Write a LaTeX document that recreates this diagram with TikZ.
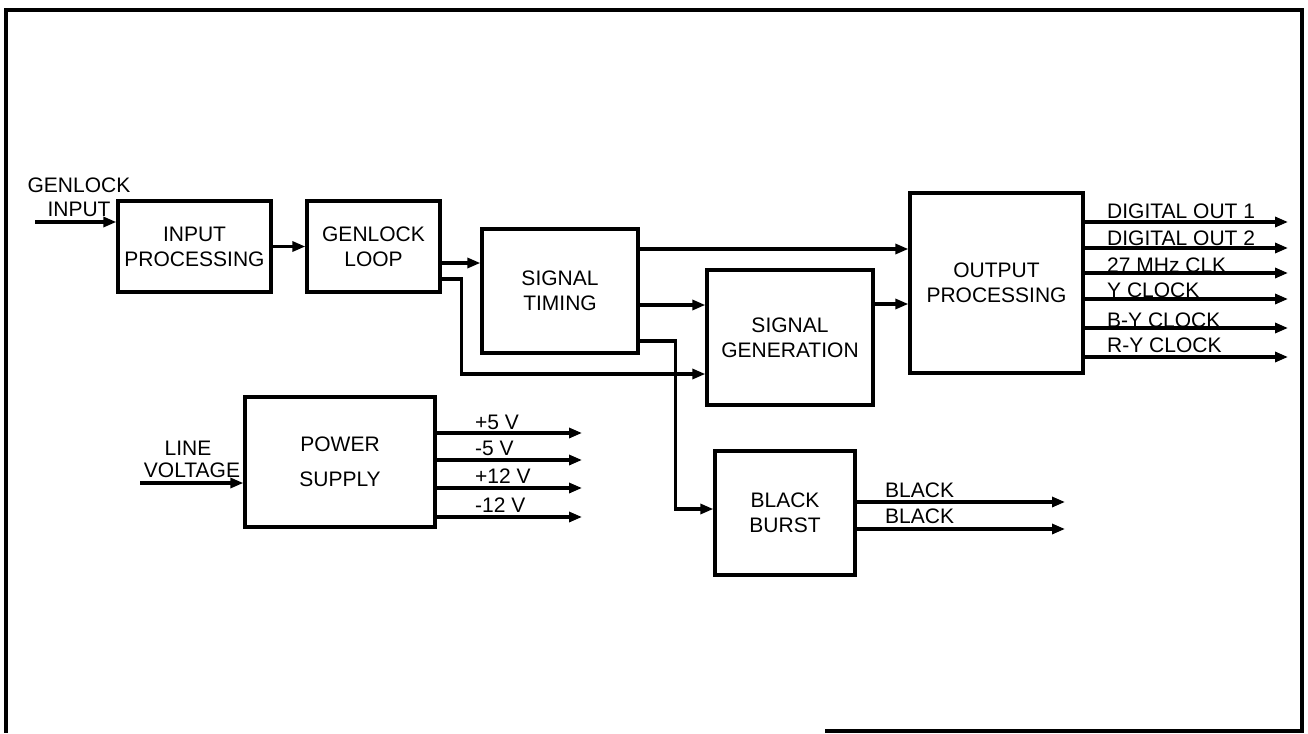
\documentclass[tikz,border=0pt]{standalone}
\usepackage{fontspec}
\setmainfont{Liberation Sans}
\usetikzlibrary{arrows.meta}
\newcommand\lblfont{\fontsize{21}{25}\selectfont}
\begin{document}
\begin{tikzpicture}[x=1pt,y=-1pt,
  box/.style={draw, line width=3.3pt, inner sep=0pt, align=center, font=\lblfont},
  arr/.style={line width=3.1pt, -{Triangle[length=13pt,width=10pt]}},
  lab/.style={font=\lblfont, inner sep=0pt, anchor=base west},
  clab/.style={font=\lblfont, inner sep=0pt, anchor=base},
  frame/.style={line width=4pt}]
\useasboundingbox (0,0) rectangle (1308,733);
% frame
\draw[frame] (825,731) -- (1302,731) -- (1302,10) -- (6,10) -- (6,733);

% blocks
\node[box, minimum width=153pt, minimum height=91pt] (ip) at (194.5,246.5) {INPUT\\PROCESSING};
\node[box, minimum width=133pt, minimum height=91pt] (gl) at (373.5,246.5) {GENLOCK\\LOOP};
\node[box, minimum width=156pt, minimum height=124pt] (st) at (560,291) {SIGNAL\\TIMING};
\node[box, minimum width=166pt, minimum height=135pt] (sg) at (790,337.5) {SIGNAL\\GENERATION};
\node[box, minimum width=173pt, minimum height=180pt] (op) at (996.5,283) {OUTPUT\\PROCESSING};
\node[box, minimum width=190pt, minimum height=130pt] (ps) at (340,462) {POWER\\[10pt]SUPPLY};
\node[box, minimum width=140pt, minimum height=124pt] (bb) at (785,513) {BLACK\\BURST};

% genlock input
\node[clab] (gin1) at (79,192) {GENLOCK};
\node[clab] (gin2) at (79,216) {INPUT};
\coordinate (gin) at (35,222);
\draw[arr] (gin) -- (ip.west |- gin);
\draw[arr] (ip.east) -- (gl.west);
\draw[arr] (gl.east |- 0,263) -- (st.west |- 0,263);
\draw[arr] (gl.east |- 0,279) -- ++(20,0) |- (sg.west |- 0,374);
\draw[arr] (st.east |- 0,249) -- (op.west |- 0,249);
\draw[arr] (st.east |- 0,305) -- (sg.west |- 0,305);
\draw[arr] (st.east |- 0,341) -- ++(36,0) |- (bb.west |- 0,509);
\draw[arr] (sg.east |- 0,304) -- (op.west |- 0,304);

% output processing outputs
\foreach \n/\y/\b/\t in {1/222/218/DIGITAL OUT 1, 2/248/245/DIGITAL OUT 2, 3/273/272/27 MHz CLK, 4/299/297/Y CLOCK, 5/328/327/B-Y CLOCK, 6/357/352/R-Y CLOCK}{
  \coordinate (oo\n) at (1288,\y);
  \draw[arr] (op.east |- oo\n) -- (oo\n);
  \node[lab] (ol\n) at (1107,\b) {\t};
}

% power supply
\node[clab] (lv1) at (188,455) {LINE};
\node[clab] (lv2) at (192,477) {VOLTAGE};
\coordinate (lv) at (140,483);
\draw[arr] (lv) -- (ps.west |- lv);
\foreach \n/\y/\b/\t in {1/433/429/+5 V, 2/460/455/-5 V, 3/488/483/+12 V, 4/517/512/-12 V}{
  \coordinate (po\n) at (582,\y);
  \draw[arr] (ps.east |- po\n) -- (po\n);
  \node[lab] (pl\n) at (475,\b) {\t};
}

% black burst
\foreach \n/\y/\b in {1/502/497, 2/529/523}{
  \coordinate (bo\n) at (1065,\y);
  \draw[arr] (bb.east |- bo\n) -- (bo\n);
  \node[lab] (bl\n) at (885,\b) {BLACK};
}
\end{tikzpicture}
\end{document}
